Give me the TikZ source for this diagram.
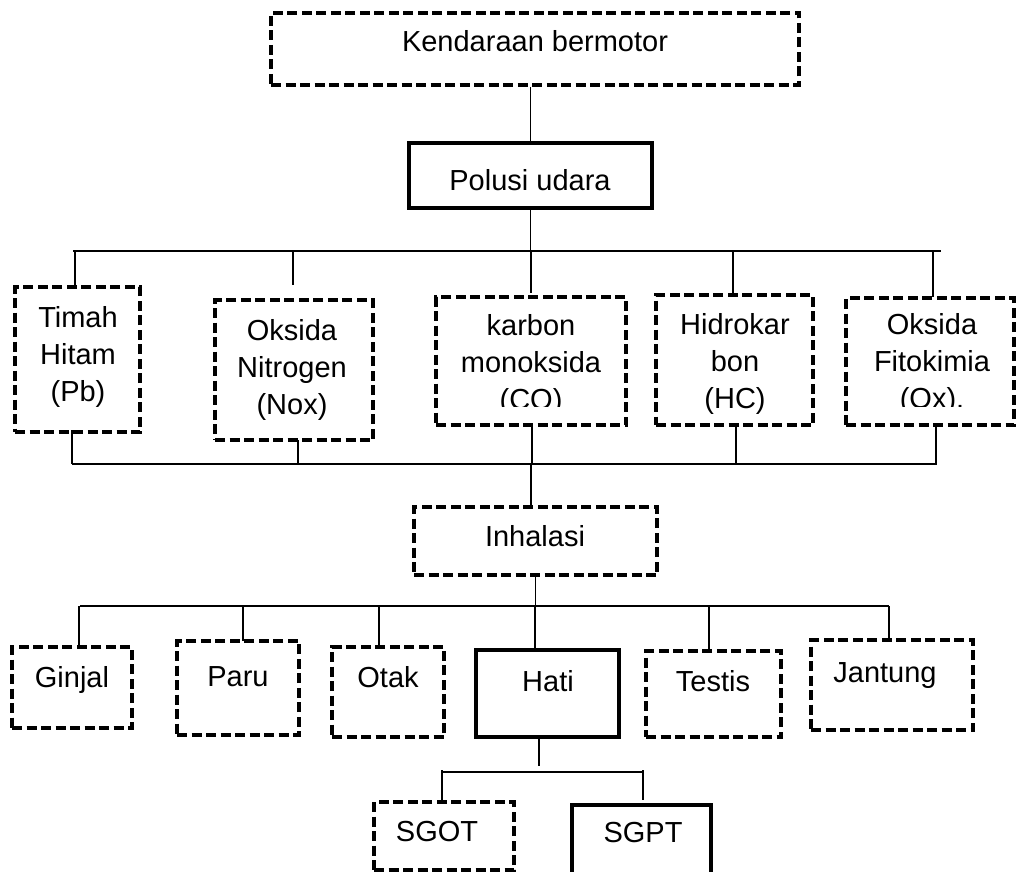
\documentclass[tikz,border=0pt]{standalone}
\usepackage{fontspec}
\setmainfont{Liberation Sans}
\begin{document}
\begin{tikzpicture}[x=1pt,y=-1pt,
  dbox/.style={draw, line width=3.6pt, dash pattern=on 10pt off 4.5pt, rectangle, inner sep=0pt},
  sbox/.style={draw, line width=4pt, rectangle, inner sep=0pt},
  txt/.style={font=\fontsize{29}{37}\selectfont, align=center, inner sep=0pt},
  conn/.style={line width=1.3pt}]
\useasboundingbox (0,0) rectangle (1017,872);

% ---------- boxes ----------
\node[dbox, minimum width=528pt, minimum height=72pt] (kend) at (535,49) {};
\node[sbox, minimum width=243pt, minimum height=65pt] (polusi) at (530.5,175.5) {};
\node[dbox, minimum width=125pt, minimum height=145pt] (timah) at (77.5,359.5) {};
\node[dbox, minimum width=158pt, minimum height=140pt] (nox) at (294,370) {};
\node[dbox, minimum width=190pt, minimum height=128pt] (karbon) at (531,361) {};
\node[dbox, minimum width=157pt, minimum height=130pt] (hidro) at (734.5,360) {};
\node[dbox, minimum width=168pt, minimum height=127pt] (ox) at (930,361.5) {};
\node[dbox, minimum width=243pt, minimum height=68pt] (inhal) at (535.5,541) {};
\node[dbox, minimum width=120pt, minimum height=81pt] (ginjal) at (72,687.5) {};
\node[dbox, minimum width=122pt, minimum height=94pt] (paru) at (238,688) {};
\node[dbox, minimum width=112pt, minimum height=90pt] (otak) at (388,692) {};
\node[sbox, minimum width=143pt, minimum height=87pt] (hati) at (547.5,693.5) {};
\node[dbox, minimum width=135pt, minimum height=86pt] (testis) at (713.5,694) {};
\node[dbox, minimum width=162pt, minimum height=90pt] (jantung) at (892,685) {};
\node[dbox, minimum width=140pt, minimum height=68pt] (sgot) at (444,836) {};
\node[sbox, minimum width=139pt, minimum height=80pt] (sgpt) at (641.5,845) {};

% ---------- texts ----------
\node[txt] (kendT) at (535,41.5) {Kendaraan bermotor};
\node[txt] (polT) at (530,180) {Polusi udara};
\node[txt] (timT) at (78,356.5) {Timah\\Hitam\\(Pb)};
\node[txt] (noxT) at (292,369.5) {Oksida\\Nitrogen\\(Nox)};
\begin{scope}
  \clip (436,290) rectangle (626,406);
  \node[txt] (karT) at (531,364.5) {karbon\\monoksida\\(CO)};
\end{scope}
\node[txt] (hidT) at (735,364) {Hidrokar\\bon\\(HC)};
\begin{scope}
  \clip (846,290) rectangle (1014,406);
  \node[txt] (oxT) at (932,364) {Oksida\\Fitokimia\\(Ox).};
\end{scope}
\node[txt] (inhT) at (535,536) {Inhalasi};
\node[txt] (ginT) at (72,680) {Ginjal};
\node[txt] (paruT) at (238,676.5) {Paru};
\node[txt] (otakT) at (388,677) {Otak};
\node[txt] (hatiT) at (548,681) {Hati};
\node[txt] (tesT) at (713,681) {Testis};
\node[txt] (janT) at (885,676) {Jantung};
\node[txt] (sgotT) at (437,832) {SGOT};
\node[txt] (sgptT) at (643,833) {SGPT};

% ---------- junction coordinates ----------
\coordinate (b1L) at (73,251);   \coordinate (b1R) at (941,251);
\coordinate (d1) at (75,286);    \coordinate (d2) at (293,285);
\coordinate (d3) at (531,293);   \coordinate (d4) at (733,293);
\coordinate (d5) at (933,297);
\coordinate (b2L) at (72,464);   \coordinate (b2R) at (937,464);
\coordinate (b2C) at (531,464);
\coordinate (u1) at (72,430);    \coordinate (u2) at (298,440);
\coordinate (u3) at (532,425);   \coordinate (u4) at (736,425);
\coordinate (u5) at (936,425);
\coordinate (b3L) at (80,606);   \coordinate (b3R) at (889,606);
\coordinate (o1) at (79,647);    \coordinate (o2) at (243,641);
\coordinate (o3) at (379,647);   \coordinate (o4) at (535,650);
\coordinate (o5) at (709,651);   \coordinate (o6) at (889,640);
\coordinate (h5) at (539,766);
\coordinate (b4L) at (442,772);  \coordinate (b4R) at (644,772);
\coordinate (s1) at (442,770);   \coordinate (s2) at (643,770);
\coordinate (s2e) at (643,800);

% ---------- connectors ----------
\begin{scope}[conn]
\draw (polusi.north) -- (polusi.north |- kend.south);
\draw (polusi.south) -- (polusi.south |- b1L);
\draw (b1L) -- (b1R);
\foreach \d in {d1,d2,d3,d4,d5} \draw (\d |- b1L) -- (\d);
\draw (b2L) -- (b2R);
\foreach \u in {u1,u2,u3,u4,u5} \draw (\u) -- (\u |- b2L);
\draw (b2C) -- (b2C |- inhal.north);
\draw (inhal.south) -- (inhal.south |- b3L);
\draw (b3L) -- (b3R);
\foreach \o in {o1,o2,o3,o4,o5,o6} \draw (\o |- b3L) -- (\o);
\draw (h5 |- hati.south) -- (h5);
\draw (b4L) -- (b4R);
\draw (s1) -- (s1 |- sgot.north);
\draw (s2) -- (s2e);
\end{scope}
\end{tikzpicture}
\end{document}
